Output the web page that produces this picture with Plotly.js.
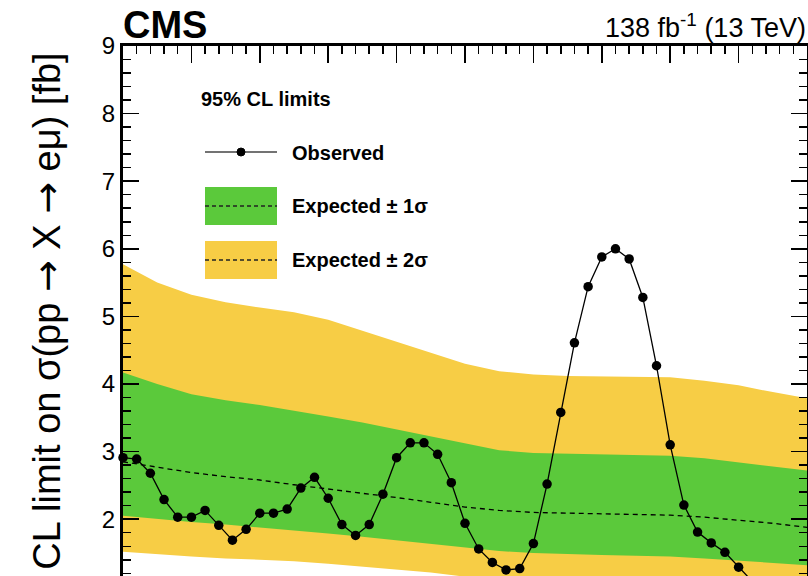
<!DOCTYPE html>
<html><head><meta charset="utf-8">
<script src="https://cdn.plot.ly/plotly-3.0.1.min.js"></script>
<style>html,body{margin:0;padding:0;background:#fff}#chart{width:808px;height:576px}</style>
</head><body><div id="chart"></div>
<script>
// Observed limit, 1 GeV steps (m_X in GeV)
const mass = [110,111,112,113,114,115,116,117,118,119,120,121,122,123,124,125,126,127,128,129,130,131,132,133,134,135,136,137,138,139,140,141,142,143,144,145,146,147,148,149,150,151,152,153,154,155,156,157,158,159,160];
const observed = [2.91,2.89,2.68,2.29,2.03,2.03,2.13,1.91,1.69,1.85,
                  2.09,2.09,2.15,2.46,2.62,2.31,1.92,1.76,1.92,2.37,
                  2.91,3.13,3.13,2.96,2.54,1.94,1.56,1.36,1.25,1.27,
                  1.64,2.52,3.58,4.61,5.44,5.88,6.00,5.85,5.28,4.27,
                  3.10,2.21,1.81,1.65,1.51,1.29,1.08,1.02,1.00,1.05,1.10];
// Expected limit and bands
const massExp = [110,112.5,115,117.5,120,122.5,125,127.5,130,132.5,135,137.5,140,142.5,145,147.5,150,152.5,155,157.5,160];
const expMed = [2.85,2.77,2.69,2.63,2.58,2.51,2.45,2.39,2.32,2.25,2.18,2.13,2.10,2.09,2.08,2.07,2.06,2.03,1.99,1.94,1.88];
const exp1Up = [4.17,4.00,3.85,3.76,3.69,3.61,3.52,3.43,3.33,3.23,3.12,3.02,2.98,2.97,2.97,2.96,2.94,2.90,2.84,2.78,2.72];
const exp1Dn = [2.05,2.00,1.96,1.92,1.88,1.84,1.79,1.74,1.69,1.64,1.58,1.53,1.50,1.48,1.47,1.46,1.45,1.42,1.39,1.36,1.32];
const exp2Up = [5.77,5.50,5.32,5.21,5.13,5.06,4.95,4.79,4.63,4.46,4.30,4.19,4.14,4.12,4.11,4.11,4.10,4.05,3.98,3.88,3.79];
const exp2Dn = [1.52,1.48,1.45,1.42,1.40,1.38,1.34,1.30,1.26,1.21,1.15,1.12,1.10,1.09,1.08,1.07,1.06,1.04,1.02,0.99,0.96];

const ARW = '<span style="font-family:DejaVu Sans">→</span>';
const yTitle = 'CL limit on σ(pp ' + ARW + ' X ' + ARW + ' eμ) [fb]';
const legendHeader = '95% CL limits';
const legendLabels = ['Observed', 'Expected ± 1σ', 'Expected ± 2σ'];

const W = 808, H = 576, L = 123, R = 1, T = 46, B = 0;
const pw = W - L - R, ph = H - T - B;
const fx = p => (p - L) / pw;
const fy = p => (H - B - p) / ph;
const GREEN = 'rgb(91,201,59)', YELLOW = 'rgb(247,205,69)';
const FONT = 'Liberation Sans, Arial, Helvetica, sans-serif';

const traces = [
  {x: massExp, y: exp2Dn, mode: 'lines', line: {width: 0, color: YELLOW}, hoverinfo: 'skip', showlegend: false},
  {x: massExp, y: exp2Up, mode: 'lines', line: {width: 0, color: YELLOW}, fill: 'tonexty', fillcolor: YELLOW, hoverinfo: 'skip', showlegend: false},
  {x: massExp, y: exp1Dn, mode: 'lines', line: {width: 0, color: GREEN}, hoverinfo: 'skip', showlegend: false},
  {x: massExp, y: exp1Up, mode: 'lines', line: {width: 0, color: GREEN}, fill: 'tonexty', fillcolor: GREEN, hoverinfo: 'skip', showlegend: false},
  {x: massExp, y: expMed, mode: 'lines', line: {color: 'black', width: 1.3, dash: '5px,4px'}, showlegend: false},
  {x: mass, y: observed, mode: 'lines+markers', line: {color: 'black', width: 1.3}, marker: {size: 9.5, color: 'black'}, cliponaxis: false, showlegend: false}
];

const shapes = [];
const annotations = [];
// header
annotations.push({xref: 'paper', yref: 'paper', x: fx(199), y: fy(99), xanchor: 'left', yanchor: 'middle', showarrow: false,
  text: '<b>' + legendHeader + '</b>', font: {family: FONT, size: 20, color: 'black'}});
// Observed entry
shapes.push({type: 'line', xref: 'paper', yref: 'paper', x0: fx(205), x1: fx(277), y0: fy(152), y1: fy(152), line: {color: '#444', width: 1.3}});
shapes.push({type: 'circle', xref: 'paper', yref: 'paper', x0: fx(237), x1: fx(245), y0: fy(148), y1: fy(156), fillcolor: 'black', line: {color: 'black', width: 1}});
// band entries
const boxes = [[187, 225, GREEN], [241, 279, YELLOW]];
boxes.forEach(b => {
  shapes.push({type: 'rect', xref: 'paper', yref: 'paper', x0: fx(205), x1: fx(277), y0: fy(b[1]), y1: fy(b[0]), fillcolor: b[2], line: {width: 0}});
  const ym = (b[0] + b[1]) / 2;
  shapes.push({type: 'line', xref: 'paper', yref: 'paper', x0: fx(205), x1: fx(277), y0: fy(ym), y1: fy(ym), line: {color: '#222', width: 1.3, dash: '4px,3px'}});
});
const labelY = [153, 206, 260];
legendLabels.forEach((t, i) => {
  annotations.push({xref: 'paper', yref: 'paper', x: fx(290), y: fy(labelY[i]), xanchor: 'left', yanchor: 'middle', showarrow: false,
    text: '<b>' + t + '</b>', font: {family: FONT, size: 20, color: 'black'}});
});
// CMS and lumi
annotations.push({xref: 'paper', yref: 'paper', x: fx(121), y: fy(25), xanchor: 'left', yanchor: 'middle', showarrow: false,
  text: '<b>CMS</b>', font: {family: FONT, size: 38, color: 'black'}});
annotations.push({xref: 'paper', yref: 'paper', x: fx(808), y: fy(26), xanchor: 'right', yanchor: 'middle', showarrow: false,
  text: '138 fb<sup>-1</sup> (13 TeV)', font: {family: FONT, size: 27, color: 'black'}});

const layout = {
  width: W, height: H,
  margin: {l: L, r: R, t: T, b: B, pad: 0},
  paper_bgcolor: 'white', plot_bgcolor: 'white',
  showlegend: false,
  font: {family: FONT, color: 'black'},
  xaxis: {
    range: [110, 160], side: 'top', showline: true, linewidth: 3, linecolor: 'black', mirror: false,
    ticks: 'inside', ticklen: 17, tickwidth: 1.5, tickcolor: 'black', dtick: 5, tick0: 110,
    showticklabels: false, showgrid: false, zeroline: false,
    minor: {dtick: 1, ticklen: 8, tickwidth: 1.5, tickcolor: 'black', ticks: 'inside', showgrid: false}
  },
  yaxis: {
    range: [1.16, 9], showline: true, linewidth: 3, linecolor: 'black', mirror: 'ticks',
    ticks: 'inside', ticklen: 16, tickwidth: 1.5, tickcolor: 'black', dtick: 1, tick0: 0,
    tickfont: {family: FONT, size: 24, color: 'black'}, showgrid: false, zeroline: false,
    minor: {dtick: 0.2, ticklen: 8, tickwidth: 1.5, tickcolor: 'black', ticks: 'inside', showgrid: false},
    title: {text: yTitle, font: {family: FONT, size: 38, color: 'black'}, standoff: 30}
  },
  shapes: shapes,
  annotations: annotations
};

Plotly.newPlot('chart', traces, layout, {staticPlot: true, displayModeBar: false});
</script>
</body></html>
